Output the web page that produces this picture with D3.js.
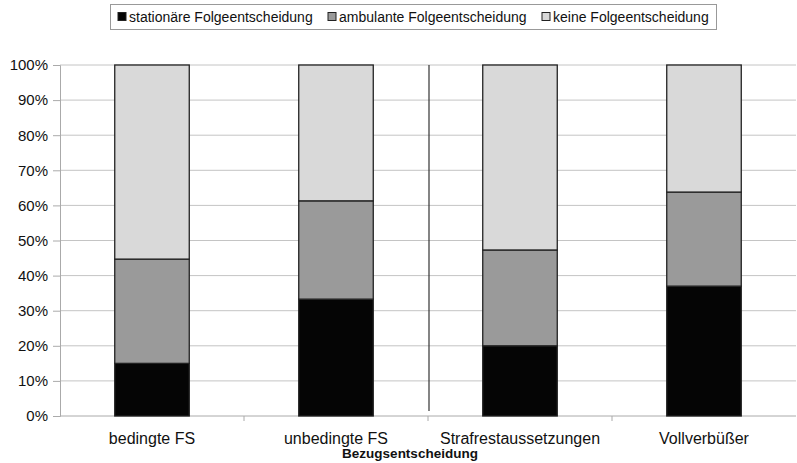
<!DOCTYPE html>
<html>
<head>
<meta charset="utf-8">
<script src="https://cdn.jsdelivr.net/npm/d3@7"></script>
<style>
  body { margin: 0; background: #fff; }
  text { font-family: "Liberation Sans", Arial, sans-serif; }
</style>
</head>
<body>
<script>
// data (shares in %)
const categories = ["bedingte FS", "unbedingte FS", "Strafrestaussetzungen", "Vollverbüßer"];
const seriesNames = ["stationäre Folgeentscheidung", "ambulante Folgeentscheidung", "keine Folgeentscheidung"];
const stationaer = [15.0, 33.3, 20.0, 37.0];
const ambulant   = [29.7, 28.0, 27.3, 26.8];
const keine      = [55.3, 38.7, 52.7, 36.2];
const yTicks = [0, 10, 20, 30, 40, 50, 60, 70, 80, 90, 100];

const W = 797, H = 463;
const margin = { top: 65, right: 1, bottom: 47, left: 60 };
const width = W - margin.left - margin.right,
      height = H - margin.top - margin.bottom;

const svg = d3.select("body").append("svg")
  .attr("width", W).attr("height", H);

const g = svg.append("g")
  .attr("transform", `translate(${margin.left},${margin.top})`);

const x = d3.scaleBand().domain(categories).range([0, width]).paddingInner(0.595).paddingOuter(0.2975);
const xb = d3.scaleBand().domain(categories).range([0, width]);
const y = d3.scaleLinear().domain([0, 100]).range([height, 0]);

const colors = ["#050505", "#9a9a9a", "#d9d9d9"];

// grid lines
g.selectAll(".grid").data(yTicks.slice(1))
  .enter().append("line")
    .attr("x1", 0).attr("x2", width)
    .attr("y1", d => y(d)).attr("y2", d => y(d))
    .attr("stroke", "#c4c4c4").attr("stroke-width", 1);

// y axis
const yAxis = g.append("g")
  .call(d3.axisLeft(y).tickValues(yTicks).tickFormat(d => d + "%").tickSize(7).tickPadding(5));
yAxis.select(".domain").attr("stroke", "#aaa");
yAxis.selectAll(".tick line").attr("stroke", "#aaa");
yAxis.selectAll("text").attr("font-size", "15px").attr("fill", "#111")
  .style("font-family", "'Liberation Sans', Arial, sans-serif");

// x axis
g.append("line")
  .attr("x1", 0).attr("x2", width).attr("y1", height).attr("y2", height)
  .attr("stroke", "#aaa");
g.selectAll(".xtick").data(categories.slice(1))
  .enter().append("line")
    .attr("x1", d => xb(d)).attr("x2", d => xb(d))
    .attr("y1", height).attr("y2", height + 5)
    .attr("stroke", "#aaa");

g.selectAll(".xlabel").data(categories)
  .enter().append("text")
    .attr("x", d => xb(d) + xb.bandwidth() / 2)
    .attr("y", height + 28)
    .attr("text-anchor", "middle")
    .attr("font-size", "16px")
    .attr("fill", "#111")
    .text(d => d);

// separator line between unbedingte FS and Strafrestaussetzungen
g.append("line")
  .attr("x1", xb(categories[2]) + 1).attr("x2", xb(categories[2]) + 1)
  .attr("y1", 0).attr("y2", height - 5)
  .attr("stroke", "#333").attr("stroke-width", 1.2);

// stacked bars
const rows = categories.map((c, i) => ({
  cat: c, s0: stationaer[i], s1: ambulant[i], s2: keine[i]
}));
const stack = d3.stack().keys(["s0", "s1", "s2"])(rows);

stack.forEach((layer, li) => {
  g.selectAll(".bar" + li).data(layer)
    .enter().append("rect")
      .attr("x", d => x(d.data.cat))
      .attr("width", x.bandwidth())
      .attr("y", d => y(d[1]))
      .attr("height", d => y(d[0]) - y(d[1]))
      .attr("fill", colors[li])
      .attr("stroke", "#222")
      .attr("stroke-width", 1.3);
});

// axis title
svg.append("text")
  .attr("x", 410).attr("y", 458)
  .attr("text-anchor", "middle")
  .attr("font-size", "13.5px")
  .attr("font-weight", "bold")
  .attr("fill", "#111")
  .text("Bezugsentscheidung");

// legend
const legend = svg.append("g");
legend.append("rect")
  .attr("x", 110.5).attr("y", 4.5).attr("width", 606).attr("height", 25)
  .attr("fill", "#fff").attr("stroke", "#999");

const legendX = [118, 328, 542];
seriesNames.forEach((n, i) => {
  const lg = legend.append("g").attr("transform", `translate(${legendX[i]},17)`);
  lg.append("rect")
    .attr("x", 0).attr("y", -4.5).attr("width", 8).attr("height", 8)
    .attr("fill", colors[i]).attr("stroke", "#222").attr("stroke-width", 1);
  lg.append("text")
    .attr("x", 11).attr("y", 5)
    .attr("font-size", "14px")
    .attr("fill", "#111")
    .text(n);
});
</script>
</body>
</html>
